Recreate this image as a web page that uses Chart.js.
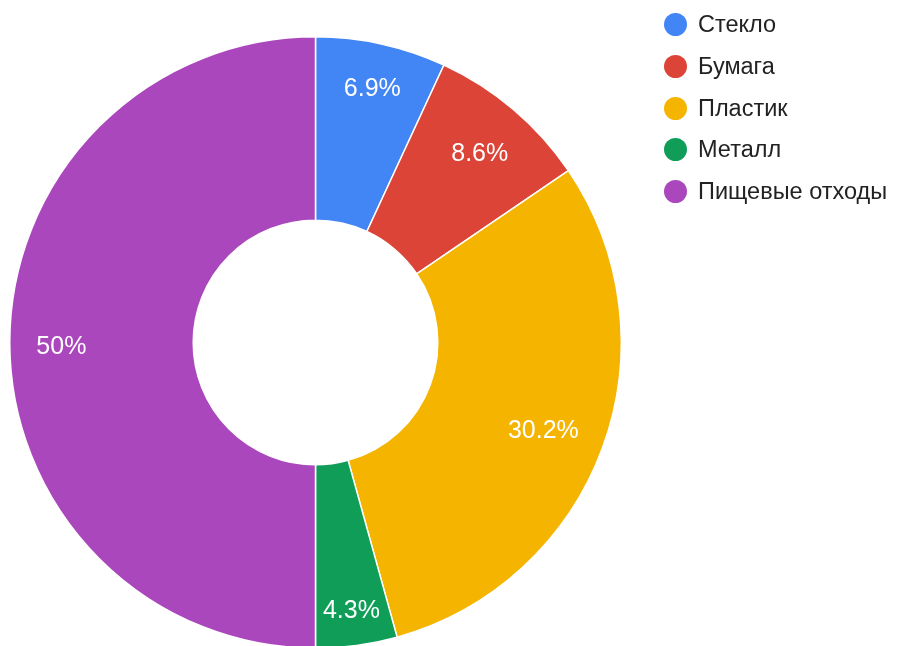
<!DOCTYPE html>
<html lang="ru">
<head>
<meta charset="utf-8">
<title>Отходы</title>
<script src="https://cdn.jsdelivr.net/npm/chart.js@4/dist/chart.umd.min.js"></script>
<style>
    html, body {
        margin: 0;
        padding: 0;
        background: #fff;
        overflow: hidden;
    }
    #wrap {
        position: relative;
        width: 899px;
        height: 660px;
    }
    #wrap canvas {
        position: absolute;
        left: 0;
        top: 0;
    }
    #legende {
        position: absolute;
        left: 664px;
        top: 0;
        margin: 0;
        padding: 0;
        list-style: none;
        font-family: "Liberation Sans", Arial, sans-serif;
        font-size: 23.5px;
        color: #222;
    }
    #legende li {
        position: absolute;
        left: 0;
        height: 24px;
        line-height: 24px;
        white-space: nowrap;
    }
    #legende span {
        position: absolute;
        left: 0;
        top: 1px;
        width: 23px;
        height: 23px;
        border-radius: 50%;
    }
    #legende b {
        position: absolute;
        left: 34px;
        top: 0;
        font-weight: normal;
    }
</style>
</head>
<body>
<div id="wrap">
    <canvas id="dechets" width="899" height="660"></canvas>
    <ul id="legende"></ul>
</div>
<script>
/********************************* ********************************/
/******************* Graphique des déchets ************************/
/******************************** *********************************/

// Variables
const categories = ['Стекло', 'Бумага', 'Пластик', 'Металл', 'Пищевые отходы'];
const pourcentages = [6.9, 8.6, 30.2, 4.3, 50];
const couleurs = ['#4285F4', '#DB4437', '#F4B400', '#0F9D58', '#AB47BC'];

let canvasDechets = document.getElementById('dechets');
let dechetsCTX = canvasDechets.getContext('2d');

/********************************* ********************************/
/**************************** Functions ***************************/
/******************************** *********************************/

// Ecrit le pourcentage de chaque part : le bord extérieur du texte
// touche toujours le même rayon, près du bord de l'anneau
const etiquettes = {
    id: 'etiquettes',
    afterDatasetsDraw(chart) {
        let ctx = chart.ctx;
        let meta = chart.getDatasetMeta(0);
        ctx.save();
        ctx.font = '25px "Liberation Sans", Arial, sans-serif';
        ctx.fillStyle = '#ffffff';
        ctx.textAlign = 'center';
        ctx.textBaseline = 'middle';
        meta.data.forEach((arc, i) => {
            let p = arc.getProps(['x', 'y', 'startAngle', 'endAngle', 'innerRadius', 'outerRadius'], true);
            let texte = pourcentages[i] + '%';
            let milieu = (p.startAngle + p.endAngle) / 2;
            let cos = Math.cos(milieu);
            let sin = Math.sin(milieu);
            let demiL = ctx.measureText(texte).width / 2;
            let demiH = 9;
            let bord = p.innerRadius + (p.outerRadius - p.innerRadius) * 0.855;
            let r = bord - (Math.abs(cos) * demiL + Math.abs(sin) * demiH);
            // +5 : les chiffres sont centrés un peu haut avec 'middle'
            ctx.fillText(texte, p.x + cos * r, p.y + sin * r + 5);
        });
        ctx.restore();
    }
};

// Légende à droite du graphique
let legende = document.getElementById('legende');
categories.forEach((nom, i) => {
    let li = document.createElement('li');
    li.style.top = (12 + i * 41.8) + 'px';
    li.innerHTML = '<span style="background:' + couleurs[i] + '"></span><b>' + nom + '</b>';
    legende.appendChild(li);
});

// Création du graphique en anneau
new Chart(dechetsCTX, {
    type: 'doughnut',
    data: {
        labels: categories,
        datasets: [{
            data: pourcentages,
            backgroundColor: couleurs,
            borderColor: '#ffffff',
            borderWidth: 1.5,
            hoverOffset: 0
        }]
    },
    options: {
        responsive: false,
        animation: false,
        cutout: '40%',
        layout: {
            padding: { left: 9, top: 36, right: 277, bottom: 11 }
        },
        plugins: {
            legend: { display: false },
            tooltip: { enabled: false }
        }
    },
    plugins: [etiquettes]
});
</script>
</body>
</html>
